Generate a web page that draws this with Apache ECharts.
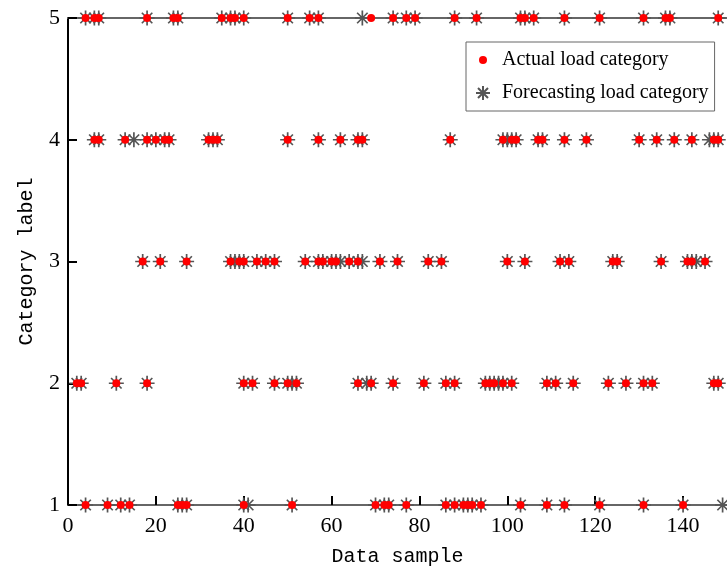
<!DOCTYPE html>
<html>
<head>
<meta charset="utf-8">
<script src="https://cdn.jsdelivr.net/npm/echarts@6/dist/echarts.min.js"></script>
<style>html,body{margin:0;padding:0;background:#fff;}#c{width:727px;height:572px;}</style>
</head>
<body>
<div id="c"></div>
<script>
// Sample indices per category row
const actualRow1 = [4, 9, 12, 14, 25, 26, 27, 40, 51, 70, 72, 73, 77, 86, 88, 90, 91, 92, 94, 103, 109, 113, 121, 131, 140];
const forecastRow1 = [4, 9, 12, 14, 25, 26, 27, 40, 41, 51, 70, 72, 73, 77, 86, 88, 90, 91, 92, 94, 103, 109, 113, 121, 131, 140, 149];
const actualRow2 = [2, 3, 11, 18, 40, 42, 47, 50, 52, 66, 69, 74, 81, 86, 88, 95, 96, 97, 99, 101, 109, 111, 115, 123, 127, 131, 133, 147, 148];
const forecastRow2 = [2, 3, 11, 18, 40, 42, 47, 50, 51, 52, 66, 68, 69, 74, 81, 86, 88, 95, 96, 97, 98, 99, 101, 109, 111, 115, 123, 127, 131, 133, 147, 148];
const actualRow3 = [17, 21, 27, 37, 39, 40, 43, 45, 47, 54, 57, 58, 60, 61, 64, 66, 71, 75, 82, 85, 100, 104, 112, 114, 124, 125, 135, 141, 142, 145];
const forecastRow3 = [17, 21, 27, 37, 38, 39, 40, 43, 45, 47, 54, 57, 58, 60, 61, 62, 64, 66, 67, 71, 75, 82, 85, 100, 104, 112, 114, 124, 125, 135, 141, 142, 143, 145];
const actualRow4 = [6, 7, 13, 18, 20, 22, 23, 32, 33, 34, 50, 57, 62, 66, 67, 87, 99, 101, 102, 107, 108, 113, 118, 130, 134, 138, 142, 147, 148];
const forecastRow4 = [6, 7, 13, 15, 18, 20, 22, 23, 32, 33, 34, 50, 57, 62, 66, 67, 87, 99, 100, 101, 102, 107, 108, 113, 118, 130, 134, 138, 142, 146, 147, 148];
const actualRow5 = [4, 6, 7, 18, 24, 25, 35, 37, 38, 40, 50, 55, 57, 69, 74, 77, 79, 88, 93, 103, 104, 106, 113, 121, 131, 136, 137, 148];
const forecastRow5 = [4, 6, 7, 18, 24, 25, 35, 37, 38, 40, 50, 55, 57, 67, 74, 77, 79, 88, 93, 103, 104, 106, 113, 121, 131, 136, 137, 148];

const categories = [1, 2, 3, 4, 5];
const xTicks = [0, 20, 40, 60, 80, 100, 120, 140];
const seriesNames = ['Actual load category', 'Forecasting load category'];

function toPoints(rows) {
  const out = [];
  rows.forEach((xs, i) => xs.forEach(x => out.push([x, categories[i]])));
  return out;
}
const actualData = toPoints([actualRow1, actualRow2, actualRow3, actualRow4, actualRow5]);
const forecastData = toPoints([forecastRow1, forecastRow2, forecastRow3, forecastRow4, forecastRow5]);

const starPath = 'path://M10 0 L10 20 M0 10 L20 10 M3 3 L17 17 M3 17 L17 3';
const starLegend = 'path://M0 0 M24 16 M10 1 L10 15 M3 8 L17 8 M5 3 L15 13 M5 13 L15 3';
const dotLegend = 'path://M0 0 M24 16 M14 8 A4 4 0 1 1 6 8 A4 4 0 1 1 14 8 Z';

const chart = echarts.init(document.getElementById('c'), null, {renderer: 'canvas'});
const tickFont = {fontFamily: 'Liberation Serif', fontSize: 22, color: '#000'};
chart.setOption({
  animation: false,
  backgroundColor: '#fff',
  grid: {left: 68, top: 18, width: 660, height: 489, containLabel: false},
  legend: {
    orient: 'vertical', left: 466, top: 42,
    backgroundColor: '#fff', borderColor: '#666', borderWidth: 1,
    padding: [8, 6, 8, 6], itemGap: 13, itemWidth: 24, itemHeight: 16,
    textStyle: {fontFamily: 'Liberation Serif', fontSize: 20, color: '#000'},
    data: [
      {name: seriesNames[0], icon: dotLegend},
      {name: seriesNames[1], icon: starLegend}
    ]
  },
  xAxis: [{
    type: 'value', min: xTicks[0], max: 150, interval: 20, position: 'bottom',
    name: 'Data sample', nameLocation: 'middle', nameGap: 42,
    nameTextStyle: {fontFamily: 'Liberation Mono', fontSize: 20, color: '#000'},
    axisLine: {show: true, lineStyle: {color: '#666', width: 2}},
    axisTick: {show: true, inside: true, length: 9, lineStyle: {color: '#000', width: 2}},
    axisLabel: Object.assign({margin: 10, showMaxLabel: false}, tickFont),
    splitLine: {show: false}
  }, {
    type: 'value', min: 0, max: 150, position: 'top',
    axisLine: {show: true, onZero: false, lineStyle: {color: '#666', width: 2}},
    axisTick: {show: false}, axisLabel: {show: false}, splitLine: {show: false}
  }],
  yAxis: {
    type: 'value', min: categories[0], max: categories[categories.length - 1], interval: 1,
    name: 'Category label', nameLocation: 'middle', nameGap: 31, nameRotate: 90,
    nameTextStyle: {fontFamily: 'Liberation Mono', fontSize: 20, color: '#000'},
    axisLine: {show: true, lineStyle: {color: '#000', width: 2}},
    axisTick: {show: true, inside: true, length: 9, lineStyle: {color: '#000', width: 2}},
    axisLabel: Object.assign({margin: 8}, tickFont),
    splitLine: {show: false}
  },
  series: [{
    name: seriesNames[0], type: 'scatter', data: actualData, z: 3,
    symbol: 'circle', symbolSize: 8,
    itemStyle: {color: '#ff0000', opacity: 1}
  }, {
    name: seriesNames[1], type: 'scatter', data: forecastData, z: 2,
    symbol: starPath, symbolSize: 15,
    itemStyle: {color: 'rgba(0,0,0,0)', borderColor: '#555', borderWidth: 1.7, opacity: 1}
  }]
});
</script>
</body>
</html>
